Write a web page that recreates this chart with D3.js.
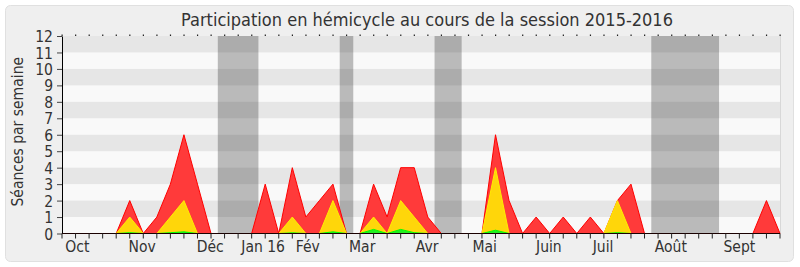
<!DOCTYPE html>
<html lang="fr">
<head>
  <meta charset="UTF-8">
  <title>Participation en hémicycle</title>
  <script src="https://d3js.org/d3.v7.min.js"></script>
  <style>
    body { margin: 0; background: #fff; }
    text { font-family: "DejaVu Sans Condensed", "DejaVu Sans", sans-serif; font-stretch: condensed; fill: #333; }
  </style>
</head>
<body>
  <div id="chart"></div>
  <script>
    // weekly values, week 0 .. 53
    const presence = [0,0,0,0,0,2,0,1,3,6,3,0,0,0,0,3,0,4,1,2,3,0,0,3,1,4,4,1,0,0,0,0,6,2,0,1,0,1,0,1,0,2,3,0,0,0,0,0,0,0,0,0,2,0];
    const participation = [0,0,0,0,0,1,0,0,1,2,0,0,0,0,0,0,0,1,0,0,2,0,0,1,0,2,1,0,0,0,0,0,4,0,0,0,0,0,0,0,0,2,0,0,0,0,0,0,0,0,0,0,0,0];
    const interventions = [0,0,0,0,0,0.05,0,0,0.05,0.1,0,0,0,0,0,0,0,0.04,0,0,0.1,0,0,0.25,0,0.25,0.05,0,0,0,0,0,0.2,0,0,0,0,0,0,0,0,0.05,0,0,0,0,0,0,0,0,0,0,0,0];

    // parliamentary holidays, in weeks
    const vacStart = [11.5, 20.5, 27.5, 43.5];
    const vacEnd = [14.5, 21.5, 29.5, 48.5];

    const monthLabels = ["Oct", "Nov", "Déc", "Jan 16", "Fév", "Mar", "Avr", "Mai", "Juin", "Juil", "Août", "Sept"];
    const monthWeeks = [1.13, 5.92, 10.94, 14.85, 18.14, 22.16, 26.95, 31.2, 35.94, 39.94, 44.94, 50.0];

    const width = 800, height = 267;
    const mLeft = 62, mRight = 780, mTop = 36, mBottom = 233.5;
    const nWeeks = presence.length - 1;
    const labelSize = "15.5px";

    const x = d3.scaleLinear().domain([0, nWeeks]).range([mLeft, mRight]);
    const y = d3.scaleLinear().domain([0, 12]).range([mBottom, mTop]);

    const svg = d3.select("#chart").append("svg")
      .attr("width", width)
      .attr("height", height);

    // frame
    svg.append("rect")
      .attr("x", 5.5).attr("y", 5.5)
      .attr("width", 788).attr("height", 256)
      .attr("rx", 5)
      .attr("fill", "#efefef")
      .attr("stroke", "#e0e0e0");

    // title
    svg.append("text")
      .attr("x", 427).attr("y", 26)
      .attr("text-anchor", "middle")
      .attr("font-size", "18px")
      .text("Participation en hémicycle au cours de la session 2015-2016");

    // plot background
    svg.append("rect")
      .attr("x", mLeft).attr("y", mTop)
      .attr("width", mRight - mLeft).attr("height", mBottom - mTop)
      .attr("fill", "#f9f9f9");

    // holidays
    svg.selectAll(".vac")
      .data(vacStart)
      .enter()
      .append("rect")
      .attr("class", "vac")
      .attr("x", (d) => x(d))
      .attr("y", mTop)
      .attr("width", (d, i) => x(vacEnd[i]) - x(d))
      .attr("height", mBottom - mTop)
      .attr("fill", "#bababa");

    // stripes
    const stripes = d3.range(1, 12, 2);
    svg.selectAll(".stripe")
      .data(stripes)
      .enter()
      .append("rect")
      .attr("class", "stripe")
      .attr("x", mLeft)
      .attr("y", (d) => y(d + 1))
      .attr("width", mRight - mLeft)
      .attr("height", (d) => y(d) - y(d + 1))
      .attr("fill", "#000")
      .attr("fill-opacity", 0.075);

    // right border
    svg.append("line")
      .attr("x1", mRight + 0.5).attr("x2", mRight + 0.5)
      .attr("y1", mTop).attr("y2", mBottom)
      .attr("stroke", "#d8d8d8");

    // series
    const series = [
      { values: presence, fill: "#ff3a3a", stroke: "#ff0000" },
      { values: participation, fill: "#ffd60a", stroke: "#ffee00" },
      { values: interventions, fill: "#22ee22", stroke: "#00ff00" }
    ];

    const area = d3.area()
      .x((d, i) => x(i))
      .y0(y(0))
      .y1((d) => y(d));

    const line = d3.line()
      .x((d, i) => x(i))
      .y((d) => y(d));

    series.forEach((s) => {
      svg.append("path")
        .datum(s.values)
        .attr("d", area)
        .attr("fill", s.fill);
      svg.append("path")
        .datum(s.values)
        .attr("d", line)
        .attr("fill", "none")
        .attr("stroke", s.stroke)
        .attr("stroke-width", 1);
    });

    // y axis
    const yAxis = svg.append("g")
      .attr("transform", `translate(${mLeft},0)`)
      .call(d3.axisLeft(y).ticks(12).tickSize(5).tickSizeOuter(0));
    yAxis.select(".domain").attr("stroke", "#000");
    yAxis.selectAll(".tick line").attr("stroke", "#444");
    yAxis.selectAll(".tick text")
      .attr("font-size", labelSize)
      .attr("fill", "#333")
      .attr("x", -9)
      .attr("dy", "0.36em");
    yAxis.attr("font-family", null).attr("font-size", null);

    // weekly ticks
    const xAxis = svg.append("g")
      .attr("transform", `translate(0,${mBottom})`)
      .call(d3.axisBottom(x).tickValues(d3.range(0, nWeeks + 1)).tickSize(5).tickSizeOuter(0).tickFormat("").offset(0));
    xAxis.select(".domain").attr("stroke", "#1a0000").attr("stroke-width", 1.2);
    xAxis.selectAll(".tick line").attr("stroke", "#222");

    // top dots
    svg.selectAll(".dot")
      .data(d3.range(0, nWeeks + 1))
      .enter()
      .append("rect")
      .attr("class", "dot")
      .attr("x", (d) => x(d) - 0.5)
      .attr("y", mTop - 1.5)
      .attr("width", 1.2)
      .attr("height", 1.5)
      .attr("fill", "#222");

    // month labels
    svg.selectAll(".month")
      .data(monthLabels)
      .enter()
      .append("text")
      .attr("class", "month")
      .attr("x", (d, i) => x(monthWeeks[i]))
      .attr("y", 251.5)
      .attr("text-anchor", "middle")
      .attr("font-size", labelSize)
      .text((d) => d);

    // y axis title
    svg.append("text")
      .attr("transform", `translate(23,${(mTop + mBottom) / 2 - 3}) rotate(-90)`)
      .attr("text-anchor", "middle")
      .attr("font-size", labelSize)
      .text("Séances par semaine");
  </script>
</body>
</html>
